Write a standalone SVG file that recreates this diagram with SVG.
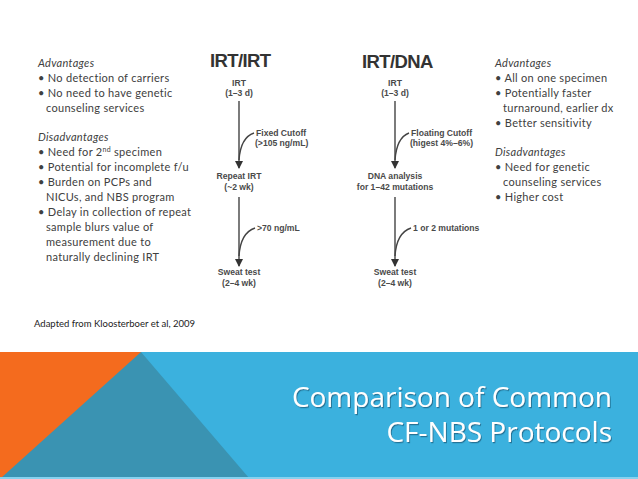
<svg xmlns="http://www.w3.org/2000/svg" width="638" height="479" viewBox="0 0 638 479">
<style>
.note{font-family:Lato,"Open Sans","Liberation Sans",sans-serif;font-size:11px;fill:#404040;letter-spacing:0.3px}
.it{font-style:italic}
.fc{font-family:"Liberation Sans",Arial,sans-serif;font-weight:bold;font-size:8.6px;fill:#4a4a4a}
.hd{font-family:"Liberation Sans",Arial,sans-serif;font-weight:bold;font-size:18.5px;fill:#333;letter-spacing:-0.6px}
.mid{text-anchor:middle}
.conn{fill:none;stroke:#444;stroke-width:1.4}
.title{font-family:"Open Sans","Liberation Sans",sans-serif;font-size:28px;fill:#ffffff;text-anchor:end}
.cite{font-family:Lato,"Open Sans","Liberation Sans",sans-serif;font-size:9.5px;fill:#222}
</style>
<defs>
<marker id="ah" markerWidth="8" markerHeight="8" refX="7" refY="4" orient="auto" markerUnits="userSpaceOnUse">
<path d="M0,0 L8,4 L0,8 Z" fill="#333"/>
</marker>
<filter id="sh" x="-5%" y="-20%" width="110%" height="150%">
<feDropShadow dx="1" dy="1.2" stdDeviation="0.6" flood-color="#1a5a78" flood-opacity="0.7"/>
</filter>
</defs>
<rect x="0" y="0" width="638" height="479" fill="#ffffff"/>

<!-- bottom band -->
<g id="band">
<rect x="0" y="352" width="638" height="127" fill="#3bb1de"/>
<polygon points="141,352 249,478 0,478 0,352" fill="#3a93b2"/>
<polygon points="0,352 141,352 1,478 0,478" fill="#f46b1e"/>
<rect x="0" y="477" width="638" height="2" fill="#86d2ef"/>
</g>
<g id="title" filter="url(#sh)">
<text class="title" x="612" y="407">Comparison of Common</text>
<text class="title" x="612" y="442">CF-NBS Protocols</text>
</g>

<!-- left notes -->
<g id="left-notes" class="note">
<text class="it" x="38" y="67">Advantages</text>
<text x="38" y="82">• No detection of carriers</text>
<text x="38" y="97">• No need to have genetic</text>
<text x="46" y="112">counseling services</text>
<text class="it" x="38" y="141">Disadvantages</text>
<text x="38" y="156">• Need for 2<tspan font-size="7" dy="-4">nd</tspan><tspan dy="4"> specimen</tspan></text>
<text x="38" y="171">• Potential for incomplete f/u</text>
<text x="38" y="186">• Burden on PCPs and</text>
<text x="46" y="201">NICUs, and NBS program</text>
<text x="38" y="216">• Delay in collection of repeat</text>
<text x="46" y="231">sample blurs value of</text>
<text x="46" y="246">measurement due to</text>
<text x="46" y="261">naturally declining IRT</text>
</g>

<!-- right notes -->
<g id="right-notes" class="note">
<text class="it" x="495" y="67">Advantages</text>
<text x="495" y="82">• All on one specimen</text>
<text x="495" y="97">• Potentially faster</text>
<text x="503" y="112">turnaround, earlier dx</text>
<text x="495" y="127">• Better sensitivity</text>
<text class="it" x="495" y="156">Disadvantages</text>
<text x="495" y="171">• Need for genetic</text>
<text x="503" y="186">counseling services</text>
<text x="495" y="201">• Higher cost</text>
</g>

<text id="citation" class="cite" x="34" y="327">Adapted from Kloosterboer et al, 2009</text>

<!-- flowchart headings -->
<text id="hd-irtirt" class="hd" x="210" y="67">IRT/IRT</text>
<text id="hd-irtdna" class="hd" x="362" y="68">IRT/DNA</text>

<!-- IRT/IRT nodes -->
<g id="a-irt" class="fc mid"><text x="239" y="86">IRT</text><text x="239" y="96">(1–3 d)</text></g>
<g id="a-repeat" class="fc mid"><text x="239" y="179">Repeat IRT</text><text x="239" y="190">(~2 wk)</text></g>
<g id="a-sweat" class="fc mid"><text x="239" y="275">Sweat test</text><text x="239" y="286">(2–4 wk)</text></g>
<g id="a-cut1" class="fc"><text x="256" y="136">Fixed Cutoff</text><text x="255" y="146">(&gt;105 ng/mL)</text></g>
<g id="a-cut2" class="fc"><text x="257" y="231">&gt;70 ng/mL</text></g>

<!-- IRT/DNA nodes -->
<g id="b-irt" class="fc mid"><text x="395" y="86">IRT</text><text x="395" y="96">(1–3 d)</text></g>
<g id="b-dna" class="fc mid"><text x="395" y="179">DNA analysis</text><text x="395" y="190">for 1–42 mutations</text></g>
<g id="b-sweat" class="fc mid"><text x="395" y="275">Sweat test</text><text x="395" y="286">(2–4 wk)</text></g>
<g id="b-cut1" class="fc"><text x="411" y="136">Floating Cutoff</text><text x="410" y="146">(higest 4%–6%)</text></g>
<g id="b-cut2" class="fc"><text x="413" y="231">1 or 2 mutations</text></g>

<!-- connectors -->
<g id="connectors">
<path class="conn" d="M239,101 L239,168" marker-end="url(#ah)"/>
<path class="conn" d="M254,133 C245,136 240,146 239,160"/>
<path class="conn" d="M239,197 L239,266" marker-end="url(#ah)"/>
<path class="conn" d="M255,228 C246,231 240,241 239,256"/>
<path class="conn" d="M395,101 L395,168" marker-end="url(#ah)"/>
<path class="conn" d="M409,133 C401,136 396,146 395,160"/>
<path class="conn" d="M395,197 L395,266" marker-end="url(#ah)"/>
<path class="conn" d="M411,228 C402,231 396,241 395,256"/>
</g>
</svg>
